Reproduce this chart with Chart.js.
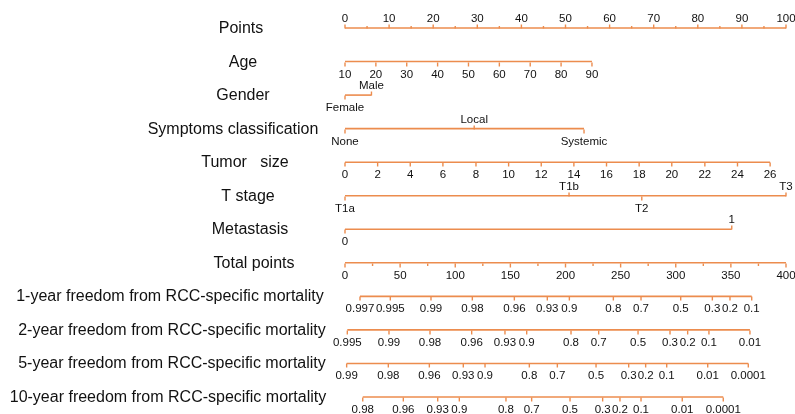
<!DOCTYPE html>
<html>
<head>
<meta charset="utf-8">
<title>Nomogram: freedom from RCC-specific mortality</title>
<script src="https://cdn.jsdelivr.net/npm/chart.js@4/dist/chart.umd.min.js"></script>
<style>
  html, body { margin: 0; padding: 0; background: #ffffff; }
  #wrap { width: 795px; height: 414px; position: relative; }
</style>
</head>
<body>
<div id="wrap"><canvas id="nomo" width="795" height="414"></canvas></div>
<script>
// ---- Scale values (points 0-100) ----
const pointsTicks = [0, 10, 20, 30, 40, 50, 60, 70, 80, 90, 100];
const pointsMinorTicks = [5, 15, 25, 35, 45, 55, 65, 75, 85, 95];

// Age (years) and the points each value earns
const ageLabels = ['10', '20', '30', '40', '50', '60', '70', '80', '90'];
const agePoints = [0, 7, 14, 21, 28, 35, 42, 49, 56];

// Gender
const genderLabels = ['Female', 'Male'];
const genderPoints = [0, 6];

// Symptoms classification
const symptomLabels = ['None', 'Local', 'Systemic'];
const symptomPoints = [0, 29.3, 54.2];

// Tumor size (cm)
const tumorLabels = ['0', '2', '4', '6', '8', '10', '12', '14', '16', '18', '20', '22', '24', '26'];
const tumorPoints = [0, 7.4, 14.8, 22.2, 29.7, 37.1, 44.5, 51.9, 59.3, 66.7, 74.1, 81.6, 89.0, 96.4];

// T stage
const tStageLabels = ['T1a', 'T1b', 'T2', 'T3'];
const tStagePoints = [0, 50.8, 67.3, 100];

// Metastasis
const metastasisLabels = ['0', '1'];
const metastasisPoints = [0, 87.7];

// ---- Total points (0-400) ----
const totalTicks = [0, 50, 100, 150, 200, 250, 300, 350, 400];
const totalMinorTicks = [25, 75, 125, 175, 225, 275, 325, 375];

// Freedom from RCC-specific mortality, placed on the total-points scale
const surv1yLabels = ['0.997', '0.995', '0.99', '0.98', '0.96', '0.93', '0.9', '0.8', '0.7', '0.5', '0.3', '0.2', '0.1'];
const surv1yTotals = [13.6, 41.1, 78.0, 115.5, 153.6, 183.5, 203.5, 243.4, 268.5, 304.5, 333.2, 349.2, 368.9];

const surv2yLabels = ['0.995', '0.99', '0.98', '0.96', '0.93', '0.9', '0.8', '0.7', '0.5', '0.3', '0.2', '0.1', '0.01'];
const surv2yTotals = [2.1, 39.9, 77.1, 114.9, 145.1, 164.8, 205.0, 230.1, 265.8, 294.8, 310.8, 330.1, 367.3];

const surv5yLabels = ['0.99', '0.98', '0.96', '0.93', '0.9', '0.8', '0.7', '0.5', '0.3', '0.2', '0.1', '0.01', '0.0001'];
const surv5yTotals = [1.5, 39.3, 76.5, 107.3, 127.0, 167.2, 192.6, 227.7, 257.3, 272.7, 291.8, 329.0, 365.8];

const surv10yLabels = ['0.98', '0.96', '0.93', '0.9', '0.8', '0.7', '0.5', '0.3', '0.2', '0.1', '0.01', '0.0001'];
const surv10yTotals = [16.1, 52.9, 84.1, 103.7, 146.0, 169.3, 204.1, 233.7, 249.4, 268.5, 305.9, 343.1];

// ---- Row definitions ----
// kind: 'top' = ticks/labels above, 'below' = ticks/labels below, 'alt' = categorical, alternating sides
const rows = [
  { title: 'Points', labels: pointsTicks.map(String), values: pointsTicks, minor: pointsMinorTicks, axis: 'x', kind: 'top' },
  { title: 'Age', labels: ageLabels, values: agePoints, axis: 'x', kind: 'below' },
  { title: 'Gender', labels: genderLabels, values: genderPoints, axis: 'x', kind: 'alt' },
  { title: 'Symptoms classification', labels: symptomLabels, values: symptomPoints, axis: 'x', kind: 'alt' },
  { title: 'Tumor   size', labels: tumorLabels, values: tumorPoints, axis: 'x', kind: 'below' },
  { title: 'T stage', labels: tStageLabels, values: tStagePoints, axis: 'x', kind: 'alt' },
  { title: 'Metastasis', labels: metastasisLabels, values: metastasisPoints, axis: 'x', kind: 'alt' },
  { title: 'Total points', labels: totalTicks.map(String), values: totalTicks, minor: totalMinorTicks, axis: 'xt', kind: 'below' },
  { title: '1-year freedom from RCC-specific mortality', labels: surv1yLabels, values: surv1yTotals, axis: 'xt', kind: 'below' },
  { title: '2-year freedom from RCC-specific mortality', labels: surv2yLabels, values: surv2yTotals, axis: 'xt', kind: 'below' },
  { title: '5-year freedom from RCC-specific mortality', labels: surv5yLabels, values: surv5yTotals, axis: 'xt', kind: 'below' },
  { title: '10-year freedom from RCC-specific mortality', labels: surv10yLabels, values: surv10yTotals, axis: 'xt', kind: 'below' }
];

// Horizontal centre of each row title
const titleCenters = [241, 243, 243, 233, 245, 248, 250, 254, 170, 172, 172, 168];

const ORANGE = 'rgb(236, 140, 78)';
const FONT = '"Liberation Sans", Arial, Helvetica, sans-serif';

// One line dataset per row, from its first to its last value
const datasets = rows.map((r, i) => ({
  label: r.title,
  type: 'line',
  xAxisID: r.axis,
  yAxisID: 'y',
  data: [
    { x: r.values[0], y: i },
    { x: r.values[r.values.length - 1], y: i }
  ],
  borderColor: ORANGE,
  borderWidth: 1.6,
  pointRadius: 0,
  tension: 0,
  clip: false
}));

// Draws tick marks, tick labels and row titles on top of the axis lines
const nomogramPlugin = {
  id: 'nomogramAxes',
  afterDatasetsDraw(chart) {
    const ctx = chart.ctx;
    const yScale = chart.scales.y;
    ctx.save();
    rows.forEach((r, i) => {
      const xScale = chart.scales[r.axis];
      const py = Math.round(yScale.getPixelForValue(i)) + 0.5;

      // ticks and labels
      ctx.strokeStyle = ORANGE;
      ctx.lineWidth = 1.4;
      ctx.fillStyle = '#111111';
      ctx.font = '11.5px ' + FONT;
      ctx.textAlign = 'center';
      ctx.textBaseline = 'middle';
      r.values.forEach((v, k) => {
        const px = xScale.getPixelForValue(v);
        let up;
        if (r.kind === 'top') up = true;
        else if (r.kind === 'below') up = false;
        else up = (k % 2 === 1);
        const len = 4;
        ctx.beginPath();
        ctx.moveTo(px, py);
        ctx.lineTo(px, up ? py - len : py + len);
        ctx.stroke();
        const ly = up ? py - 10 : py + 12;
        ctx.fillText(r.labels[k], px, ly);
      });
      if (r.minor) {
        r.minor.forEach(v => {
          const px = xScale.getPixelForValue(v);
          const up = r.kind === 'top';
          ctx.beginPath();
          ctx.moveTo(px, py);
          ctx.lineTo(px, up ? py - 2.5 : py + 2.5);
          ctx.stroke();
        });
      }

      // row title
      ctx.fillStyle = '#111111';
      ctx.font = '16px ' + FONT;
      ctx.textAlign = 'center';
      ctx.textBaseline = 'middle';
      ctx.fillText(r.title, titleCenters[i], py);
    });
    ctx.restore();
  }
};

const bgPlugin = {
  id: 'whiteBackground',
  beforeDraw(chart) {
    const ctx = chart.ctx;
    ctx.save();
    ctx.fillStyle = '#ffffff';
    ctx.fillRect(0, 0, chart.width, chart.height);
    ctx.restore();
  }
};

new Chart(document.getElementById('nomo'), {
  type: 'scatter',
  data: { datasets },
  options: {
    responsive: false,
    animation: false,
    events: [],
    layout: { padding: { left: 345, right: 9, top: 28, bottom: 17 } },
    scales: {
      x: { type: 'linear', min: 0, max: 100, display: false },
      xt: { type: 'linear', min: 0, max: 400, display: false },
      y: { type: 'linear', min: 0, max: rows.length - 1, reverse: true, display: false }
    },
    plugins: {
      legend: { display: false },
      tooltip: { enabled: false },
      title: { display: false }
    }
  },
  plugins: [bgPlugin, nomogramPlugin]
});
</script>
</body>
</html>
